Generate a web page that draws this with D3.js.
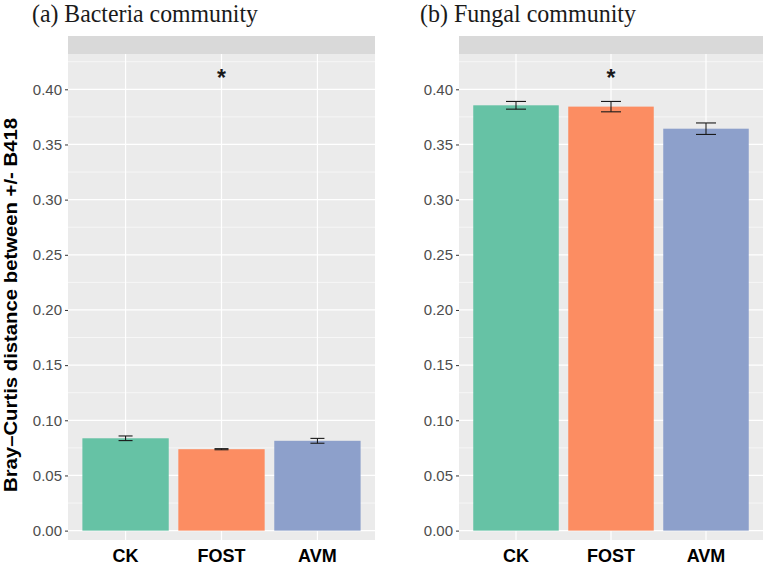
<!DOCTYPE html>
<html>
<head>
<meta charset="utf-8">
<script src="https://cdn.jsdelivr.net/npm/d3@7"></script>
<style>
  html, body { margin: 0; padding: 0; background: #ffffff; }
  svg { display: block; }
</style>
</head>
<body>
<svg id="chart" width="768" height="567"></svg>
<script>
// ---- data ----
const categories = ["CK", "FOST", "AVM"];
const barColors = ["#66c2a5", "#fc8d62", "#8da0cb"];
const panelTitles = ["(a) Bacteria community", "(b) Fungal community"];
const bacteriaMean = [0.0837, 0.0738, 0.0814];
const bacteriaErr  = [0.0021, 0.0005, 0.0022];
const fungalMean   = [0.3855, 0.3843, 0.3643];
const fungalErr    = [0.0035, 0.0047, 0.0052];
const bacteriaStar = ["", "*", ""];
const fungalStar   = ["", "*", ""];
const starValue = 0.415;
const yTicks = [0.00, 0.05, 0.10, 0.15, 0.20, 0.25, 0.30, 0.35, 0.40];
const yMinor = [0.025, 0.075, 0.125, 0.175, 0.225, 0.275, 0.325, 0.375, 0.425];
const yTitle = "Bray\u2013Curtis distance between +/- B418";

const svg = d3.select("#chart");

const panelTop = 54, panelBottom = 540, stripTop = 36;
const panels = [
  { x0: 68, x1: 375, mean: bacteriaMean, err: bacteriaErr, star: bacteriaStar, title: panelTitles[0], titleX: 32, titleW: 226, capW: 14 },
  { x0: 459, x1: 763, mean: fungalMean, err: fungalErr, star: fungalStar, title: panelTitles[1], titleX: 420, titleW: 216, capW: 20 }
];

const y = d3.scaleLinear().domain([-0.0085, 0.432]).range([panelBottom, panelTop]);

panels.forEach(p => {
  const g = svg.append("g");
  const x = d3.scaleBand().domain(categories).range([p.x0, p.x1])
    .paddingInner(0.1).paddingOuter(0.15);

  // title
  g.append("text").attr("x", p.titleX).attr("y", 21.5)
    .attr("font-family", "Liberation Serif, Times New Roman, serif")
    .attr("font-size", 25).attr("fill", "#1a1a1a")
    .attr("textLength", p.titleW).attr("lengthAdjust", "spacingAndGlyphs")
    .text(p.title);

  // strip
  g.append("rect").attr("x", p.x0).attr("y", stripTop)
    .attr("width", p.x1 - p.x0).attr("height", panelTop - stripTop)
    .attr("fill", "#d9d9d9");

  // panel background
  g.append("rect").attr("x", p.x0).attr("y", panelTop)
    .attr("width", p.x1 - p.x0).attr("height", panelBottom - panelTop)
    .attr("fill", "#ebebeb");

  // minor grid
  g.selectAll(".minor").data(yMinor).join("line")
    .attr("x1", p.x0).attr("x2", p.x1)
    .attr("y1", d => y(d)).attr("y2", d => y(d))
    .attr("stroke", "#ffffff").attr("stroke-width", 0.6);

  // major grid
  g.selectAll(".major").data(yTicks).join("line")
    .attr("x1", p.x0).attr("x2", p.x1)
    .attr("y1", d => y(d)).attr("y2", d => y(d))
    .attr("stroke", "#ffffff").attr("stroke-width", 1.2);

  g.selectAll(".vgrid").data(categories).join("line")
    .attr("x1", d => x(d) + x.bandwidth() / 2).attr("x2", d => x(d) + x.bandwidth() / 2)
    .attr("y1", panelTop).attr("y2", panelBottom)
    .attr("stroke", "#ffffff").attr("stroke-width", 1.2);

  // bars
  g.selectAll(".bar").data(categories).join("rect")
    .attr("x", d => x(d)).attr("width", x.bandwidth())
    .attr("y", (d, i) => y(p.mean[i]))
    .attr("height", (d, i) => y(0) - y(p.mean[i]))
    .attr("fill", (d, i) => barColors[i]);

  // error bars
  const eb = g.selectAll(".eb").data(categories).join("g");
  eb.append("line")
    .attr("x1", d => x(d) + x.bandwidth() / 2).attr("x2", d => x(d) + x.bandwidth() / 2)
    .attr("y1", (d, i) => y(p.mean[i] + p.err[i])).attr("y2", (d, i) => y(p.mean[i] - p.err[i]))
    .attr("stroke", "#1a1a1a").attr("stroke-width", 1.1);
  [1, -1].forEach(s => {
    eb.append("line")
      .attr("x1", d => x(d) + x.bandwidth() / 2 - p.capW / 2)
      .attr("x2", d => x(d) + x.bandwidth() / 2 + p.capW / 2)
      .attr("y1", (d, i) => y(p.mean[i] + s * p.err[i]))
      .attr("y2", (d, i) => y(p.mean[i] + s * p.err[i]))
      .attr("stroke", "#1a1a1a").attr("stroke-width", 1.1);
  });

  // significance stars
  g.selectAll(".star").data(categories).join("text")
    .attr("x", d => x(d) + x.bandwidth() / 2)
    .attr("y", y(starValue) + 13)
    .attr("text-anchor", "middle")
    .attr("font-family", "Liberation Sans, Arial, sans-serif")
    .attr("font-size", 23).attr("font-weight", "bold").attr("fill", "#1a1a1a")
    .text((d, i) => p.star[i]);

  // y axis
  const yAxis = d3.axisLeft(y).tickValues(yTicks).tickFormat(d3.format(".2f"))
    .tickSize(3).tickPadding(3);
  const ya = g.append("g").attr("transform", `translate(${p.x0},0)`).call(yAxis);
  ya.select(".domain").remove();
  ya.selectAll(".tick line").attr("stroke", "#333333").attr("stroke-width", 1);
  ya.selectAll(".tick text").attr("fill", "#4d4d4d")
    .attr("font-family", "Liberation Sans, Arial, sans-serif").attr("font-size", 15);

  // x axis
  const xAxis = d3.axisBottom(x).tickSize(0).tickPadding(9);
  const xa = g.append("g").attr("transform", `translate(0,${panelBottom})`).call(xAxis);
  xa.select(".domain").remove();
  xa.selectAll(".tick text").attr("fill", "#000000")
    .attr("font-family", "Liberation Sans, Arial, sans-serif")
    .attr("font-size", 18).attr("font-weight", "bold");
});

// y axis title
svg.append("text")
  .attr("transform", "translate(17,305) rotate(-90)")
  .attr("text-anchor", "middle")
  .attr("font-family", "Liberation Sans, Arial, sans-serif")
  .attr("font-size", 19).attr("font-weight", "bold").attr("fill", "#000000")
  .attr("textLength", 374).attr("lengthAdjust", "spacingAndGlyphs")
  .text(yTitle);
</script>
</body>
</html>
